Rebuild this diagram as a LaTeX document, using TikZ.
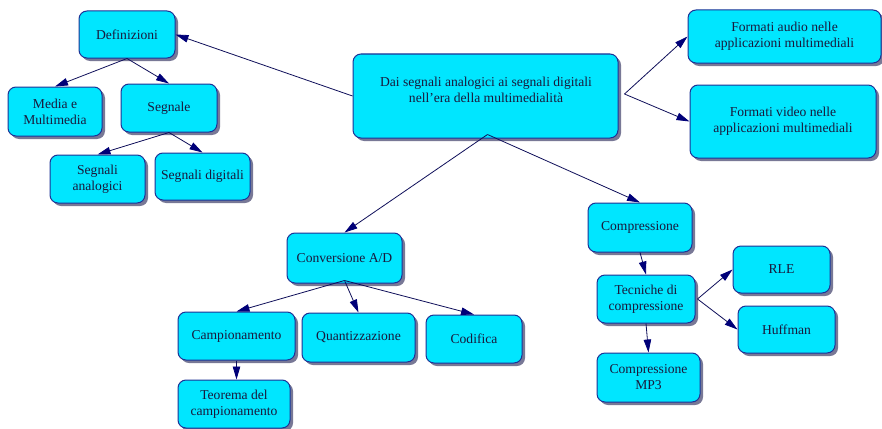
\documentclass[tikz,border=0pt]{standalone}
\usepackage{fontspec}
\setmainfont{Liberation Serif}
\usetikzlibrary{shadows,arrows.meta}
\definecolor{boxfill}{RGB}{0,230,255}
\definecolor{boxline}{RGB}{30,50,150}
\definecolor{shadowc}{RGB}{120,120,150}
\definecolor{txt}{RGB}{25,25,60}
\definecolor{arrowc}{RGB}{15,15,90}
\definecolor{tipc}{RGB}{0,0,120}
\begin{document}
\begin{tikzpicture}[x=1pt,y=-1pt,
  box/.style={draw=boxline, line width=1pt, fill=boxfill, rounded corners=8pt,
    inner sep=0pt, align=center, text=txt, font=\fontsize{13.6}{16}\selectfont,
    drop shadow={shadow xshift=3pt, shadow yshift=-3pt, fill=shadowc, opacity=1}},
  link/.style={draw=arrowc, line width=0.8pt, -{Triangle[length=13pt,width=7.5pt,fill=tipc,color=tipc]}},
  lbl/.style={inner sep=0pt, align=center, text=txt, font=\fontsize{13.6}{16}\selectfont}]
\useasboundingbox[fill=white] (0,0) rectangle (882,428);

\node[box, minimum width=96pt, minimum height=47pt] (def) at (127,34.5) {Definizioni};
\node[box, minimum width=94pt, minimum height=49pt] (media) at (55,111.5) {Media e\\Multimedia};
\node[box, minimum width=96pt, minimum height=48pt] (seg) at (169,108) {Segnale};
\node[box, minimum width=95pt, minimum height=48pt] (an) at (97.5,179) {Segnali\\analogici};
\node[box, minimum width=95pt, minimum height=47pt] (dig) at (202.5,176.5) {Segnali digitali};
\node[box, minimum width=265pt, minimum height=84pt] (main) at (485.5,96) {};
\node[lbl] (maintext) at (486,90) {Dai segnali analogici ai segnali digitali\\nell’era della multimedialità};
\node[box, minimum width=193pt, minimum height=53pt] (audio) at (784.5,36.5) {Formati audio nelle\\applicazioni multimediali};
\node[box, minimum width=186pt, minimum height=73pt] (video) at (783,121.5) {Formati video nelle\\applicazioni multimediali};
\node[box, minimum width=115pt, minimum height=50pt] (conv) at (344.5,258) {Conversione A/D};
\node[box, minimum width=117pt, minimum height=48pt] (camp) at (236.5,336) {Campionamento};
\node[box, minimum width=113pt, minimum height=49pt] (quant) at (358.5,337.5) {Quantizzazione};
\node[box, minimum width=96pt, minimum height=48pt] (cod) at (474,339) {Codifica};
\node[box, minimum width=112pt, minimum height=48pt] (teo) at (234,404) {Teorema del\\campionamento};
\node[box, minimum width=104pt, minimum height=49pt] (compr) at (640,227.5) {Compressione};
\node[box, minimum width=98pt, minimum height=48pt] (tec) at (646,299) {Tecniche di\\compressione};
\node[box, minimum width=103pt, minimum height=49pt] (mp3) at (648.5,377.5) {Compressione\\MP3};
\node[box, minimum width=97pt, minimum height=47pt] (rle) at (781.5,269.5) {RLE};
\node[box, minimum width=97pt, minimum height=47pt] (huff) at (786.5,329.5) {Huffman};

\coordinate (mainR) at ([xshift=6pt,yshift=2pt]main.east);
\coordinate (mainB) at ([xshift=2pt,yshift=4pt]main.south);
\coordinate (convB) at ([yshift=3pt]conv.south);
\coordinate (tecR) at ([xshift=2pt]tec.east);

\draw[link] (main.west) -- (def.east);
\draw[link] (def.south) -- (media.north);
\draw[link] (def.south) -- (seg.north);
\draw[link] (seg.south) -- (an.north);
\draw[link] (seg.south) -- (dig.north);
\draw[link] (mainR) -- (audio.west);
\draw[link] (mainR) -- (video.west);
\draw[link] (mainB) -- (conv.north);
\draw[link] (mainB) -- (compr.north);
\draw[link] (convB) -- (camp.north);
\draw[link] (convB) -- (quant.north);
\draw[link] (convB) -- (cod.north);
\draw[link] (camp.south) -- (camp.south |- teo.north);
\draw[link] (compr.south) -- (tec.north);
\draw[link] (tec.south) -- (mp3.north);
\draw[link] (tecR) -- (rle.west);
\draw[link] (tecR) -- (huff.west);
\end{tikzpicture}
\end{document}
